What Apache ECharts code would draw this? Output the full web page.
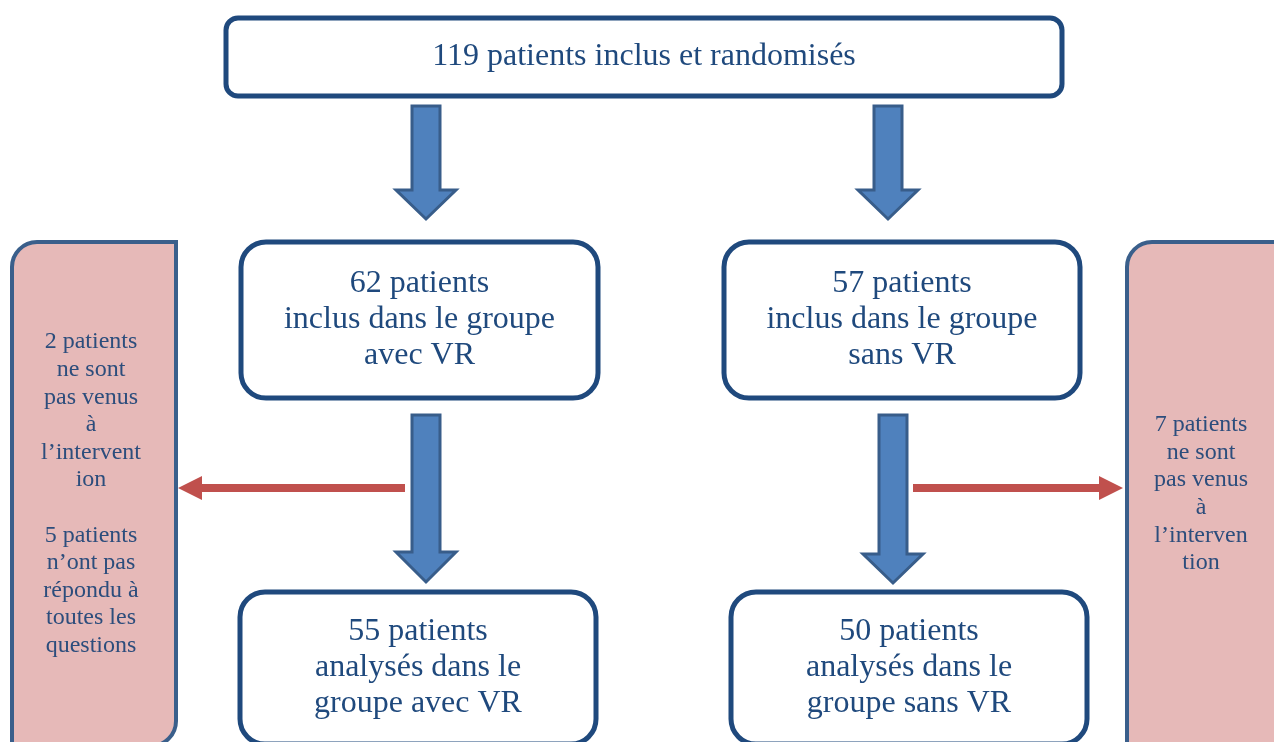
<!DOCTYPE html>
<html>
<head>
<meta charset="utf-8">
<script src="https://cdn.jsdelivr.net/npm/echarts@6/dist/echarts.min.js"></script>
<style>
  html, body { margin: 0; padding: 0; background: #fff; }
  #main { width: 1274px; height: 742px; }
</style>
</head>
<body>
<div id="main"></div>
<script>
// --- data ---
const boxLabels = [
  '119 patients inclus et randomisés',
  '62 patients\ninclus dans le groupe\navec VR',
  '57 patients\ninclus dans le groupe\nsans VR',
  '55 patients\nanalysés dans le\ngroupe avec VR',
  '50 patients\nanalysés dans le\ngroupe sans VR'
]
const exclusionLabels = [
  '2 patients\nne sont\npas venus\nà\nl’intervent\nion\n\n5 patients\nn’ont pas\nrépondu à\ntoutes les\nquestions',
  '7 patients\nne sont\npas venus\nà\nl’interven\ntion'
]
// box -> box
const flowLinks = [[0, 1], [0, 2], [1, 3], [2, 4]]
// box -> exclusion box
const exclusionLinks = [[1, 0], [2, 1]]

// --- layout (canvas units, mapped through the hidden axes) ---
const boxFrames = [
  [226, 18, 1062, 96],
  [241, 242, 598, 398],
  [724, 242, 1080, 398],
  [240, 592, 596, 744],
  [731, 592, 1087, 744]
]
const boxRadius = [12, 25, 25, 25, 25]
const exclusionFrames = [
  [12, 242, 176, 746],
  [1127, 242, 1292, 746]
]
const exclusionRadius = [[25, 0, 25, 0], [25, 0, 0, 0]]
const exclusionTextX = [91, 1201]
// x centre, shaft top, head start, tip
const flowArrows = [
  [426, 106, 190, 219],
  [888, 106, 190, 219],
  [426, 415, 552, 582],
  [893, 415, 554, 583]
]
// x start, x tip, y
const exclusionArrows = [
  [405, 178, 488],
  [913, 1123, 488]
]

const myChart = echarts.init(document.getElementById('main'))

function pt(api, x, y) {
  return api.coord([x, y])
}

const option = {
  animation: false,
  grid: { left: 0, right: 0, top: 0, bottom: 0 },
  xAxis: { type: 'value', min: 0, max: 1274, show: false },
  yAxis: { type: 'value', min: 0, max: 742, inverse: true, show: false },
  series: [
    {
      type: 'custom',
      silent: true,
      data: exclusionLabels.map((t, i) => [i, 0]),
      renderItem: function (params, api) {
        const i = api.value(0)
        const f = exclusionFrames[i]
        const p0 = pt(api, f[0], f[1])
        const p1 = pt(api, f[2], f[3])
        const tx = pt(api, exclusionTextX[i], 0)[0]
        return {
          type: 'group',
          children: [
            {
              type: 'rect',
              shape: {
                x: p0[0], y: p0[1],
                width: p1[0] - p0[0], height: p1[1] - p0[1],
                r: exclusionRadius[i]
              },
              style: { fill: '#E6B9B8', stroke: '#3A5F8B', lineWidth: 4 }
            },
            {
              type: 'text',
              x: tx,
              y: (p0[1] + p1[1]) / 2,
              style: {
                text: exclusionLabels[i],
                font: '24px "Liberation Serif"',
                fill: '#2C4D7C',
                align: 'center',
                verticalAlign: 'middle',
                lineHeight: 27.6
              }
            }
          ]
        }
      }
    },
    {
      type: 'custom',
      silent: true,
      data: boxLabels.map((t, i) => [i, 0]),
      renderItem: function (params, api) {
        const i = api.value(0)
        const f = boxFrames[i]
        const p0 = pt(api, f[0], f[1])
        const p1 = pt(api, f[2], f[3])
        return {
          type: 'group',
          children: [
            {
              type: 'rect',
              shape: {
                x: p0[0], y: p0[1],
                width: p1[0] - p0[0], height: p1[1] - p0[1],
                r: boxRadius[i]
              },
              style: { fill: '#fff', stroke: '#1F497D', lineWidth: 5 }
            },
            {
              type: 'text',
              x: (p0[0] + p1[0]) / 2,
              y: (p0[1] + p1[1]) / 2,
              style: {
                text: boxLabels[i],
                font: '32px "Liberation Serif"',
                fill: '#1F497D',
                align: 'center',
                verticalAlign: 'middle',
                lineHeight: 36
              }
            }
          ]
        }
      }
    },
    {
      // blue flow arrows
      type: 'custom',
      silent: true,
      data: flowLinks.map((l, i) => [i, 0]),
      renderItem: function (params, api) {
        const a = flowArrows[api.value(0)]
        const x = a[0], sw = 14, hw = 30
        const pts = [
          [x - sw, a[1]], [x + sw, a[1]], [x + sw, a[2]], [x + hw, a[2]],
          [x, a[3]], [x - hw, a[2]], [x - sw, a[2]]
        ].map(p => pt(api, p[0], p[1]))
        return {
          type: 'polygon',
          shape: { points: pts },
          style: { fill: '#4F81BD', stroke: '#385D8A', lineWidth: 3, lineJoin: 'miter' }
        }
      }
    },
    {
      // red exclusion arrows
      type: 'custom',
      silent: true,
      data: exclusionLinks.map((l, i) => [i, 0]),
      renderItem: function (params, api) {
        const a = exclusionArrows[api.value(0)]
        const dir = a[1] > a[0] ? 1 : -1
        const y = a[2], sh = 4, hh = 12, hl = 24
        const back = a[1] - dir * hl
        const pts = [
          [a[0], y - sh], [back, y - sh], [back, y - hh], [a[1], y],
          [back, y + hh], [back, y + sh], [a[0], y + sh]
        ].map(p => pt(api, p[0], p[1]))
        return {
          type: 'polygon',
          shape: { points: pts },
          style: { fill: '#C0504D' }
        }
      }
    }
  ]
}

myChart.setOption(option)
</script>
</body>
</html>
